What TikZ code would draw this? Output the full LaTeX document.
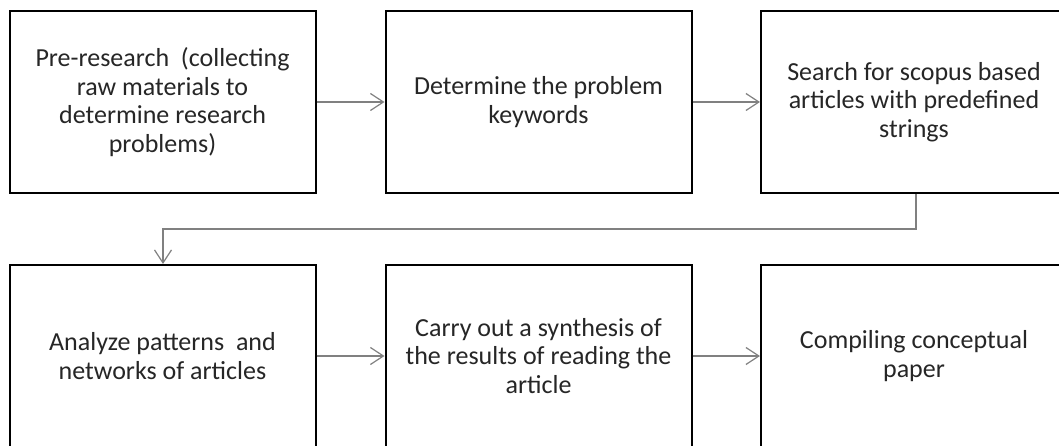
\documentclass[tikz,border=0pt]{standalone}
\usepackage{fontspec}
\setmainfont{Carlito}
\usetikzlibrary{arrows.meta}
\tikzset{
  x=1pt, y=1pt,
  stepbox/.style={draw=black, line width=2pt, fill=white, minimum width=306pt,
    minimum height=182pt, inner sep=0pt, align=center, text=black!85,
    font=\fontsize{26}{28.5}\selectfont},
  flow/.style={draw=black!50, line width=1.5pt,
    -{Straight Barb[length=13pt, width=17pt, line width=1.2pt]}},
}
\begin{document}
\begin{tikzpicture}
\useasboundingbox (0,-446) rectangle (1059,0);
\begin{scope}
\clip (0,-446) rectangle (1059,0);
% top row
\node[stepbox] (s1) at (162.5,-102) {Pre-research \ (collecting\\raw materials to\\determine research\\problems)};
\node[stepbox] (s2) at (538.5,-102) {Determine the problem\\keywords};
\node[stepbox] (s3) at (914,-102) {Search for scopus based\\articles with predefined\\strings};
% bottom row
\node[stepbox] (s4) at (162.5,-356) {Analyze patterns \ and\\networks of articles};
\node[stepbox] (s5) at (538.5,-356) {Carry out a synthesis of\\the results of reading the\\article};
\node[stepbox] (s6) at (914,-356) {Compiling conceptual\\paper};
% connectors
\coordinate (turnR) at (916,-229);
\coordinate (turnL) at (163,-229);
\draw[flow] (s1) -- (s2);
\draw[flow] (s2) -- (s3);
\draw[flow] (s3.south -| turnR) -- (turnR) -- (turnL) -- (s4.north -| turnL);
\draw[flow] (s4) -- (s5);
\draw[flow] (s5) -- (s6);
\end{scope}
\end{tikzpicture}
\end{document}
